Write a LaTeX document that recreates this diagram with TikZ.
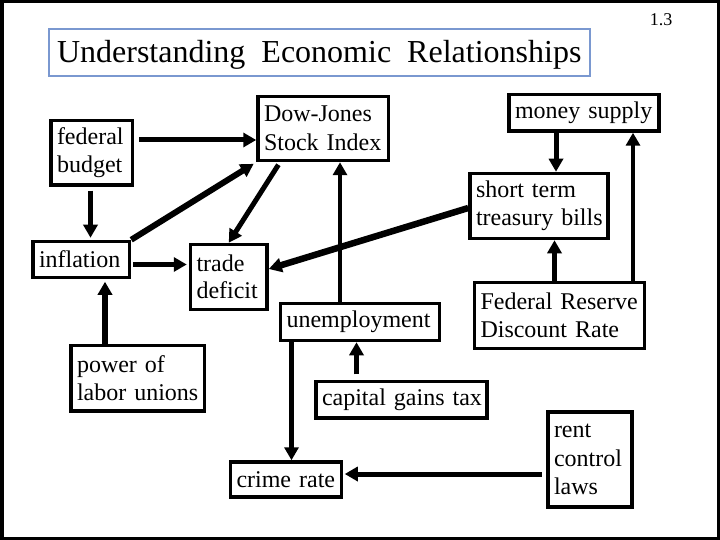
\documentclass[tikz,border=0pt]{standalone}
\usepackage{fontspec}
\setmainfont{Liberation Serif}
\usetikzlibrary{arrows.meta,calc}
\definecolor{titleblue}{RGB}{122,152,208}
\begin{document}
\begin{tikzpicture}[x=1pt,y=-1pt,
  box/.style={draw, line width=3.5pt, outer sep=1.75pt, rectangle, inner xsep=6pt, inner ysep=1pt, align=left, font=\fontsize{24}{28.5}\selectfont},
  arr/.style={line width=5pt, -{Triangle[length=13pt,width=14pt]}},
  titlebox/.style={draw=titleblue, line width=1.5pt, inner xsep=0pt, inner ysep=0pt, minimum width=541pt, text height=34pt, text depth=13pt, font=\fontsize{32}{38}\selectfont}
]
\useasboundingbox (0,0) rectangle (720,540);
\draw[line width=3.5pt] (1.75,1.75) rectangle (718.25,538.25);

\node[titlebox, anchor=base west] (title) at (48,63) {Understanding\ \ Economic\ \ Relationships};
\node[font=\fontsize{18}{20}\selectfont, anchor=base, inner sep=0pt] (pg) at (661,26) {1.3};

\node[box, text width=69.5pt, minimum height=64.5pt, font=\fontsize{24}{27.5}\selectfont] (fb) at (91.75,152.75) {federal\\budget};
\node[box, text width=118.5pt, minimum height=64pt] (dj) at (323.25,128.5) {Dow-Jones\\Stock~Index};
\node[box, text width=138pt, minimum height=36.5pt] (ms) at (584,112.75) {money~supply};
\node[box, text width=126pt, minimum height=65pt] (tb) at (539,206) {short~term\\treasury~bills};
\node[box, text width=84.5pt, minimum height=36pt] (inf) at (81.25,259.5) {inflation};
\node[box, text width=64.5pt, minimum height=65pt, font=\fontsize{24}{27.5}\selectfont] (td) at (228.75,277) {trade\\deficit};
\node[box, text width=147pt, minimum height=37pt] (un) at (360,322) {unemployment};
\node[box, text width=158pt, minimum height=66pt] (fr) at (559.5,315.5) {Federal~Reserve\\Discount~Rate};
\node[box, text width=121.5pt, minimum height=65.5pt] (pl) at (137.75,378.25) {power~of\\labor~unions};
\node[box, text width=159pt, minimum height=36.5pt] (cg) at (401.5,399.75) {capital~gains~tax};
\node[box, text width=99pt, minimum height=35pt] (cr) at (286,479.5) {crime~rate};
\node[box, text width=72pt, minimum height=95pt] (rc) at (590,459.5) {rent\\control\\laws};

\draw[arr, shorten <=5pt] (fb.east |- 0,140) -- (dj.west |- 0,140);
\draw[arr, line width=4.5pt, shorten <=4pt, shorten >=2pt] (fb.south -| 90.5,0) -- (inf.north -| 90.5,0);
\draw[arr, line width=6pt, shorten >=3pt] (inf.north east) -- (dj.south west);
\draw[arr, shorten <=3pt] (dj.south -| 280,0) -- (td.north);
\draw[arr, line width=5.5pt, shorten <=2pt, shorten >=2pt] (inf.east |- 0,264.5) -- (td.west |- 0,264.5);
\draw[arr, line width=5.5pt, shorten >=2.5pt] (pl.north -| 105,0) -- (inf.south -| 105,0);
\draw[arr, line width=6.5pt] (tb.west |- 0,208) -- (td.east |- 0,269);
\draw[arr, line width=4.7pt] (un.north -| 340,0) -- (dj.south -| 340,0);
\draw[arr, line width=4.7pt] (un.south -| 291.5,0) -- (cr.north -| 291.5,0);
\draw[arr, line width=4.7pt, shorten <=5.5pt] (cg.north -| 356.5,0) -- (un.south -| 356.5,0);
\draw[arr, shorten <=4.5pt, shorten >=1.5pt] (rc.west |- 0,474) -- (cr.east |- 0,474);
\draw[arr] (ms.south -| 556,0) -- (tb.north -| 556,0);
\draw[arr, line width=5.5pt] (fr.north -| 554.5,0) -- (tb.south -| 554.5,0);
\draw[arr, line width=4.8pt] (fr.north -| 633,0) -- (ms.south -| 633,0);
\end{tikzpicture}
\end{document}
